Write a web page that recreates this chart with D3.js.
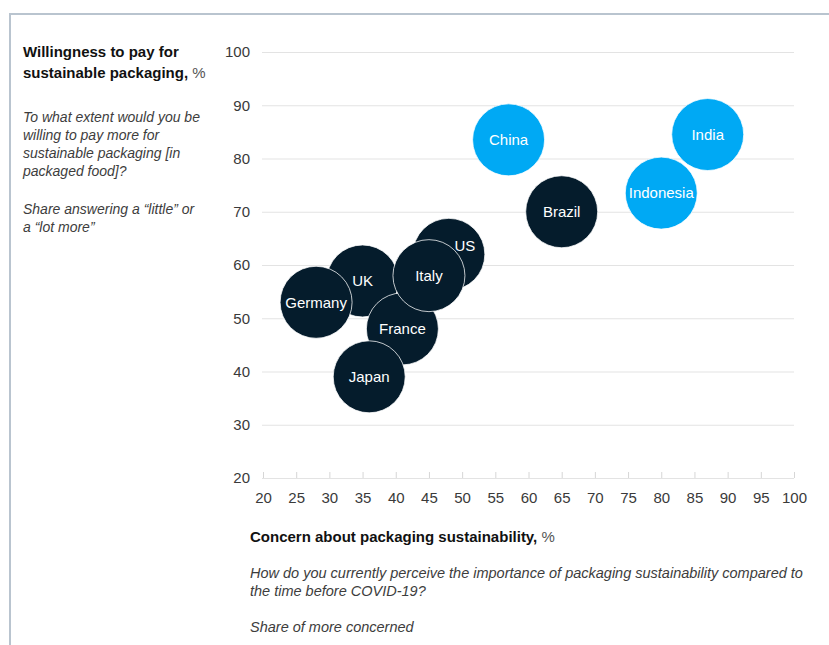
<!DOCTYPE html>
<html>
<head>
<meta charset="utf-8">
<script src="https://cdn.jsdelivr.net/npm/d3@7"></script>
<style>
  html, body { margin: 0; padding: 0; background: #fff; }
  svg { display: block; font-family: "Liberation Sans", Arial, sans-serif; }
</style>
</head>
<body>
<svg id="chart" width="829" height="645"></svg>
<script>
// Countries, drawn in this order (later ones sit on top)
const countries = ["US", "UK", "Germany", "France", "Italy", "Japan", "Brazil", "China", "India", "Indonesia"];
// Concern about packaging sustainability, %
const concern = [48, 35, 28, 41, 45, 36, 65, 57, 87, 80];
// Willingness to pay for sustainable packaging, %
const willingness = [62, 57, 53, 48, 58, 39, 70, 83.5, 84.5, 73.5];
// Group: emerging markets are highlighted
const group = ["dark", "dark", "dark", "dark", "dark", "dark", "dark", "light", "light", "light"];

const xTicks = d3.range(20, 101, 5);
const yTicks = d3.range(20, 101, 10);

const colors = { dark: "#051c2c", light: "#00a9f4" };

const svg = d3.select("#chart");

// frame
svg.append("path")
  .attr("d", "M10,645 V14 H829")
  .attr("fill", "none")
  .attr("stroke", "#b9c4cf")
  .attr("stroke-width", 2);

const x = d3.scaleLinear().domain([20, 100]).range([263, 794]);
const y = d3.scaleLinear().domain([20, 100]).range([478, 52]);

// horizontal gridlines with labels
const yAxis = d3.axisLeft(y).tickValues(yTicks).tickSize(-(794 - 262)).tickPadding(12);
const gy = svg.append("g").attr("transform", "translate(262,0)").call(yAxis);
gy.select(".domain").remove();
gy.selectAll(".tick line").attr("stroke", "#e3e3e3").attr("stroke-width", 1.2);
gy.selectAll(".tick text")
  .attr("font-size", 15).attr("fill", "#3a3a3a")
  .attr("font-family", "Liberation Sans, Arial, sans-serif");

// bottom axis: ticks pointing up from the baseline
const xAxis = d3.axisBottom(x).tickValues(xTicks).tickSize(-6).tickPadding(14);
const gx = svg.append("g").attr("transform", `translate(0,${y(20)})`).call(xAxis);
gx.select(".domain").remove();
gx.selectAll(".tick line").attr("stroke", "#d6d6d6").attr("stroke-width", 1);
gx.selectAll(".tick text")
  .attr("font-size", 15).attr("fill", "#3a3a3a")
  .attr("font-family", "Liberation Sans, Arial, sans-serif");

// bubbles
const r = 36;
const nodes = svg.append("g").selectAll("g")
  .data(countries.map((c, i) => ({ name: c, cx: concern[i], wy: willingness[i], g: group[i] })))
  .join("g")
  .attr("transform", d => `translate(${x(d.cx)},${y(d.wy)})`);

nodes.append("circle")
  .attr("r", r)
  .attr("fill", d => colors[d.g])
  .attr("stroke", "#ffffff")
  .attr("stroke-opacity", 0.75)
  .attr("stroke-width", 1);

nodes.append("text")
  .attr("text-anchor", "middle")
  .attr("dy", "0.35em")
  .attr("font-size", 15)
  .attr("fill", "#ffffff")
  .attr("dx", d => d.name === "US" ? 16 : 0)
  .attr("y", d => d.name === "US" ? -9 : 0)
  .text(d => d.name);

// y-axis title block
const left = svg.append("g").attr("transform", "translate(23,0)");
const t1 = left.append("text").attr("y", 57).attr("font-size", 15).attr("fill", "#111");
t1.append("tspan").attr("font-weight", "bold").text("Willingness to pay for");
const t2 = left.append("text").attr("y", 78).attr("font-size", 15).attr("fill", "#111");
t2.append("tspan").attr("font-weight", "bold").text("sustainable packaging, ");
t2.append("tspan").attr("fill", "#555").text("%");

const leftNotes = [
  ["To what extent would you be", 122],
  ["willing to pay more for", 140],
  ["sustainable packaging [in", 158],
  ["packaged food]?", 176],
  ["Share answering a \u201clittle\u201d or", 214],
  ["a \u201clot more\u201d", 232]
];
left.selectAll("text.note").data(leftNotes).join("text")
  .attr("class", "note")
  .attr("y", d => d[1])
  .attr("font-size", 14).attr("font-style", "italic").attr("fill", "#3d3d3d")
  .text(d => d[0]);

// x-axis title block
const bottom = svg.append("g").attr("transform", "translate(250,0)");
const bt = bottom.append("text").attr("y", 542).attr("font-size", 15).attr("fill", "#111");
bt.append("tspan").attr("font-weight", "bold").text("Concern about packaging sustainability, ");
bt.append("tspan").attr("fill", "#555").text("%");

const bottomNotes = [
  ["How do you currently perceive the importance of packaging sustainability compared to", 578],
  ["the time before COVID-19?", 596],
  ["Share of more concerned", 632]
];
bottom.selectAll("text.note").data(bottomNotes).join("text")
  .attr("class", "note")
  .attr("y", d => d[1])
  .attr("font-size", 14.5).attr("font-style", "italic").attr("fill", "#3d3d3d")
  .text(d => d[0]);
</script>
</body>
</html>
